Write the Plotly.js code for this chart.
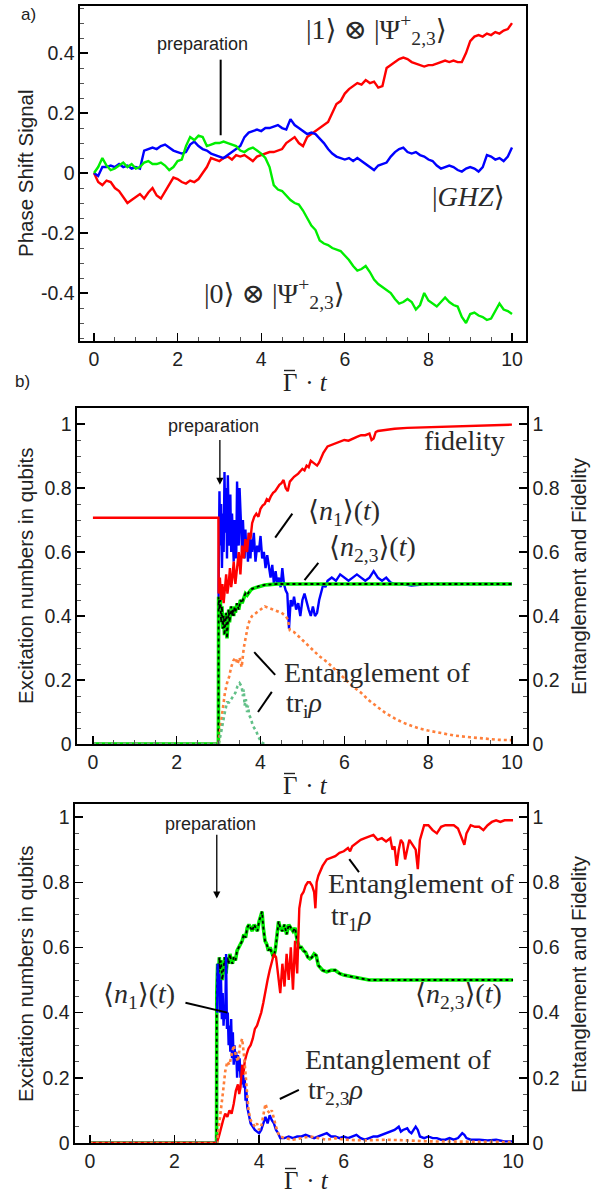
<!DOCTYPE html>
<html><head><meta charset="utf-8">
<script src="https://cdn.plot.ly/plotly-3.0.1.min.js"></script>
<style>html,body{margin:0;padding:0;background:#fff}#chart{width:606px;height:1197px}</style>
</head><body><div id="chart"></div>
<script>
// ---------- Panel a: phase shift signals ----------
const tGrid = [0,0.1,0.2,0.3,0.4,0.5,0.6,0.7,0.8,0.9,1,1.1,1.2,1.3,1.4,1.5,1.6,1.7,1.8,1.9,2,2.1,2.2,2.3,2.4,2.5,2.6,2.7,2.8,2.9,3,3.1,3.2,3.3,3.4,3.5,3.6,3.7,3.8,3.9,4,4.1,4.2,4.3,4.4,4.5,4.6,4.7,4.8,4.9,5,5.1,5.2,5.3,5.4,5.5,5.6,5.7,5.8,5.9,6,6.1,6.2,6.3,6.4,6.5,6.6,6.7,6.8,6.9,7,7.1,7.2,7.3,7.4,7.5,7.6,7.7,7.8,7.9,8,8.1,8.2,8.3,8.4,8.5,8.6,8.7,8.8,8.9,9,9.1,9.2,9.3,9.4,9.5,9.6,9.7,9.8,9.9,10];
const phaseRed = [
 0,-0.03,-0.04,-0.025,-0.03,-0.05,-0.06,-0.08,-0.1,-0.09,
 -0.08,-0.07,-0.085,-0.065,-0.05,-0.075,-0.085,-0.06,-0.04,-0.015,
 -0.02,-0.03,-0.035,-0.025,-0.03,-0.02,0.0,0.02,0.05,0.045,
 0.04,0.05,0.055,0.045,0.06,0.055,0.06,0.05,0.04,0.055,
 0.06,0.065,0.07,0.07,0.075,0.08,0.1,0.11,0.12,0.1,
 0.09,0.12,0.13,0.14,0.15,0.16,0.17,0.2,0.23,0.24,
 0.265,0.28,0.29,0.3,0.295,0.31,0.3,0.305,0.285,0.29,
 0.35,0.36,0.37,0.38,0.385,0.38,0.37,0.365,0.36,0.355,
 0.36,0.36,0.365,0.37,0.375,0.37,0.375,0.37,0.37,0.4,
 0.44,0.455,0.46,0.455,0.465,0.46,0.47,0.465,0.475,0.48,
 0.5];
const phaseBlue = [
 0,-0.01,0.02,0.02,0.025,0.02,0.03,0.02,0.025,0.015,
 0.02,0.015,0.075,0.08,0.085,0.08,0.09,0.095,0.085,0.075,
 0.07,0.065,0.07,0.095,0.105,0.09,0.08,0.075,0.065,0.06,
 0.055,0.05,0.06,0.07,0.08,0.09,0.12,0.135,0.14,0.145,
 0.14,0.15,0.15,0.155,0.16,0.15,0.145,0.18,0.16,0.15,
 0.14,0.13,0.135,0.13,0.115,0.1,0.08,0.065,0.055,0.05,
 0.045,0.05,0.04,0.05,0.04,0.03,0.02,0.01,0.025,0.03,
 0.035,0.055,0.07,0.08,0.085,0.07,0.065,0.07,0.06,0.055,
 0.045,0.04,0.025,0.015,0.02,0.025,0.02,0.01,0.005,0.015,
 0.02,0.015,0.005,0.02,0.06,0.055,0.045,0.05,0.04,0.055,
 0.085];
const phaseGreen = [
 0,0.02,0.05,0.025,0.01,0.015,0.025,0.035,0.02,0.03,
 0.015,0.02,0.035,0.04,0.03,0.03,0.035,0.025,0.01,0.02,
 0.04,0.045,0.09,0.12,0.11,0.125,0.12,0.09,0.095,0.1,
 0.1,0.105,0.1,0.095,0.09,0.075,0.07,0.08,0.085,0.075,
 0.065,0.05,0.02,-0.04,-0.055,-0.06,-0.075,-0.09,-0.1,-0.105,
 -0.125,-0.15,-0.175,-0.19,-0.225,-0.235,-0.24,-0.25,-0.255,-0.26,
 -0.275,-0.29,-0.31,-0.325,-0.32,-0.31,-0.33,-0.355,-0.37,-0.38,
 -0.39,-0.4,-0.42,-0.435,-0.43,-0.42,-0.43,-0.455,-0.44,-0.4,
 -0.425,-0.435,-0.445,-0.43,-0.415,-0.43,-0.44,-0.445,-0.48,-0.5,
 -0.47,-0.465,-0.475,-0.48,-0.49,-0.485,-0.46,-0.435,-0.455,-0.46,
 -0.47];
const phaseTickVals = [-0.4,-0.2,0,0.2,0.4];
const phaseTickText = ['-0.4','-0.2','0','0.2','0.4'];

// ---------- Panel b: [time, value] points ----------
const fidelityB = [[0,0.707],[2.995,0.707],[3.0,0.47],[3.03,0.52],[3.06,0.45],[3.09,0.5],[3.12,0.44],[3.15,0.48],[3.18,0.53],[3.21,0.47],[3.24,0.5],[3.27,0.55],[3.3,0.49],[3.33,0.52],[3.36,0.57],[3.4,0.5],[3.44,0.56],[3.48,0.6],[3.52,0.53],[3.56,0.62],[3.6,0.58],[3.64,0.64],[3.68,0.6],[3.72,0.66],[3.76,0.64],[3.8,0.69],[3.85,0.71],[3.9,0.72],[3.95,0.71],[4.0,0.735],[4.05,0.745],[4.1,0.75],[4.15,0.765],[4.2,0.76],[4.25,0.775],[4.3,0.785],[4.35,0.79],[4.4,0.8],[4.45,0.81],[4.5,0.815],[4.55,0.825],[4.6,0.8],[4.65,0.79],[4.7,0.82],[4.8,0.835],[4.9,0.845],[5.0,0.86],[5.05,0.855],[5.1,0.87],[5.15,0.865],[5.2,0.885],[5.25,0.88],[5.3,0.875],[5.35,0.87],[5.4,0.88],[5.5,0.91],[5.6,0.93],[5.7,0.935],[5.8,0.94],[5.9,0.945],[6.0,0.95],[6.1,0.948],[6.2,0.955],[6.3,0.96],[6.4,0.965],[6.5,0.965],[6.6,0.97],[6.65,0.95],[6.7,0.955],[6.75,0.975],[6.8,0.978],[7.0,0.982],[7.2,0.985],[7.5,0.988],[8.0,0.99],[8.5,0.993],[9.0,0.995],[9.5,0.997],[10,0.998]];
const n1B = [[0,0],[2.995,0],[3.0,0.5],[3.02,0.79],[3.04,0.62],[3.06,0.75],[3.08,0.55],[3.1,0.72],[3.12,0.6],[3.14,0.85],[3.16,0.66],[3.18,0.8],[3.2,0.58],[3.22,0.84],[3.24,0.7],[3.26,0.62],[3.28,0.78],[3.3,0.6],[3.32,0.72],[3.34,0.66],[3.36,0.57],[3.38,0.7],[3.4,0.64],[3.42,0.58],[3.44,0.82],[3.46,0.7],[3.48,0.62],[3.5,0.8],[3.52,0.72],[3.54,0.66],[3.56,0.6],[3.58,0.7],[3.6,0.63],[3.62,0.58],[3.64,0.67],[3.66,0.6],[3.68,0.64],[3.7,0.57],[3.72,0.66],[3.74,0.6],[3.76,0.58],[3.78,0.64],[3.8,0.6],[3.84,0.66],[3.88,0.57],[3.92,0.62],[3.96,0.6],[4.0,0.65],[4.04,0.58],[4.08,0.6],[4.12,0.55],[4.16,0.59],[4.2,0.56],[4.24,0.52],[4.28,0.56],[4.32,0.5],[4.36,0.54],[4.4,0.5],[4.44,0.52],[4.48,0.49],[4.52,0.55],[4.56,0.5],[4.6,0.48],[4.64,0.47],[4.68,0.36],[4.72,0.45],[4.76,0.43],[4.8,0.46],[4.85,0.42],[4.9,0.44],[4.95,0.4],[5.0,0.45],[5.05,0.47],[5.1,0.44],[5.15,0.42],[5.2,0.4],[5.25,0.43],[5.3,0.4],[5.35,0.41],[5.4,0.45],[5.45,0.48],[5.5,0.5],[5.55,0.49],[5.6,0.51],[5.7,0.52],[5.8,0.51],[5.9,0.53],[6.0,0.52],[6.1,0.51],[6.2,0.52],[6.3,0.53],[6.4,0.52],[6.5,0.51],[6.6,0.52],[6.7,0.54],[6.8,0.52],[6.9,0.51],[7.0,0.52],[7.1,0.505],[7.2,0.5],[7.4,0.5],[7.6,0.495],[8.0,0.5],[8.5,0.5],[9.0,0.5],[9.5,0.5],[10,0.5]];
const n23B = [[0,0],[2.995,0],[3.0,0.46],[3.02,0.42],[3.04,0.45],[3.06,0.38],[3.08,0.43],[3.1,0.36],[3.12,0.4],[3.14,0.34],[3.16,0.38],[3.18,0.41],[3.2,0.33],[3.22,0.37],[3.24,0.42],[3.26,0.38],[3.28,0.4],[3.3,0.43],[3.32,0.4],[3.34,0.42],[3.36,0.4],[3.38,0.43],[3.4,0.41],[3.44,0.44],[3.48,0.42],[3.52,0.45],[3.56,0.44],[3.6,0.46],[3.64,0.47],[3.68,0.465],[3.72,0.475],[3.76,0.48],[3.8,0.485],[3.9,0.49],[4.0,0.495],[4.1,0.497],[4.2,0.498],[4.4,0.5],[10,0.5]];
const entOrangeB = [[0,0],[2.99,0],[3.0,0],[3.05,0.06],[3.1,0.12],[3.15,0.16],[3.2,0.19],[3.25,0.21],[3.3,0.24],[3.35,0.26],[3.4,0.27],[3.45,0.25],[3.5,0.27],[3.55,0.24],[3.6,0.3],[3.65,0.34],[3.7,0.37],[3.75,0.39],[3.8,0.4],[3.9,0.41],[4.0,0.42],[4.1,0.43],[4.2,0.425],[4.3,0.42],[4.4,0.415],[4.5,0.41],[4.6,0.4],[4.65,0.39],[4.7,0.355],[4.8,0.35],[5.0,0.325],[5.2,0.3],[5.4,0.275],[5.6,0.255],[5.8,0.23],[6.0,0.205],[6.2,0.18],[6.4,0.16],[6.6,0.135],[6.8,0.115],[7.0,0.095],[7.2,0.08],[7.4,0.067],[7.6,0.057],[7.8,0.048],[8.0,0.042],[8.3,0.035],[8.6,0.027],[9.0,0.021],[9.4,0.016],[9.7,0.013],[10,0.012]];
const entGreenB = [[0,0],[2.99,0],[3.0,0],[3.05,0.03],[3.1,0.07],[3.15,0.1],[3.2,0.13],[3.25,0.13],[3.3,0.14],[3.35,0.15],[3.4,0.16],[3.45,0.18],[3.5,0.19],[3.55,0.18],[3.58,0.15],[3.6,0.17],[3.62,0.12],[3.65,0.14],[3.68,0.1],[3.7,0.12],[3.73,0.09],[3.77,0.08],[3.81,0.06],[3.85,0.05],[3.9,0.04],[3.94,0.025],[3.98,0.015],[4.02,0.005],[4.1,0]];

// ---------- Panel c: [time, value] points ----------
const entRedC = [[0,0],[2.99,0],[3.0,0],[3.05,0.02],[3.1,0.05],[3.15,0.07],[3.2,0.09],[3.25,0.08],[3.3,0.1],[3.35,0.09],[3.4,0.12],[3.45,0.16],[3.5,0.18],[3.53,0.15],[3.56,0.17],[3.6,0.24],[3.63,0.21],[3.66,0.25],[3.7,0.27],[3.75,0.29],[3.8,0.3],[3.85,0.32],[3.9,0.35],[3.95,0.36],[4.0,0.38],[4.05,0.4],[4.1,0.43],[4.15,0.47],[4.2,0.5],[4.25,0.53],[4.3,0.56],[4.35,0.58],[4.4,0.57],[4.45,0.52],[4.5,0.46],[4.55,0.55],[4.6,0.48],[4.65,0.58],[4.7,0.5],[4.75,0.6],[4.8,0.47],[4.85,0.62],[4.9,0.52],[4.95,0.72],[5.0,0.76],[5.05,0.77],[5.1,0.79],[5.15,0.8],[5.2,0.8],[5.25,0.79],[5.3,0.77],[5.33,0.72],[5.36,0.8],[5.4,0.82],[5.5,0.85],[5.6,0.87],[5.7,0.875],[5.8,0.88],[5.9,0.89],[6.0,0.895],[6.1,0.905],[6.15,0.895],[6.2,0.91],[6.3,0.92],[6.4,0.93],[6.5,0.935],[6.6,0.94],[6.7,0.945],[6.8,0.93],[6.9,0.935],[7.0,0.925],[7.1,0.935],[7.15,0.9],[7.2,0.91],[7.25,0.85],[7.3,0.9],[7.35,0.93],[7.4,0.92],[7.45,0.87],[7.5,0.9],[7.55,0.93],[7.6,0.92],[7.7,0.9],[7.75,0.84],[7.8,0.93],[7.9,0.975],[8.0,0.975],[8.1,0.96],[8.2,0.95],[8.3,0.97],[8.4,0.975],[8.5,0.975],[8.6,0.975],[8.7,0.965],[8.8,0.93],[8.85,0.915],[8.9,0.95],[9.0,0.975],[9.1,0.97],[9.2,0.97],[9.3,0.96],[9.4,0.975],[9.5,0.985],[9.6,0.99],[9.7,0.985],[9.8,0.99],[9.9,0.99],[10,0.99]];
const n1C = [[0,0],[2.99,0],[2.995,null],[3.01,0.4],[3.02,0.55],[3.04,0.45],[3.06,0.52],[3.08,0.4],[3.1,0.5],[3.12,0.38],[3.14,0.46],[3.16,0.36],[3.18,0.42],[3.2,0.38],[3.22,0.58],[3.24,0.35],[3.26,0.4],[3.28,0.3],[3.3,0.36],[3.32,0.28],[3.34,0.38],[3.36,0.26],[3.38,0.34],[3.4,0.24],[3.42,0.3],[3.44,0.25],[3.46,0.28],[3.48,0.2],[3.5,0.27],[3.52,0.22],[3.54,0.26],[3.56,0.2],[3.58,0.24],[3.6,0.18],[3.62,0.21],[3.64,0.17],[3.66,0.2],[3.68,0.13],[3.7,0.16],[3.72,0.11],[3.75,0.09],[3.8,0.06],[3.85,0.05],[3.9,0.04],[3.95,0.035],[4.0,0.03],[4.05,0.04],[4.1,0.06],[4.15,0.08],[4.2,0.06],[4.25,0.085],[4.3,0.07],[4.35,0.06],[4.4,0.04],[4.45,0.03],[4.5,0.015],[4.6,0.015],[4.7,0.02],[4.8,0.015],[4.9,0.02],[5.0,0.02],[5.1,0.025],[5.2,0.02],[5.3,0.015],[5.4,0.02],[5.5,0.025],[5.6,0.03],[5.7,0.02],[5.8,0.02],[5.9,0.015],[6.0,0.02],[6.1,0.015],[6.2,0.02],[6.3,0.025],[6.4,0.015],[6.5,0.01],[6.6,0.015],[6.7,0.02],[6.8,0.02],[6.9,0.025],[7.0,0.03],[7.1,0.035],[7.2,0.04],[7.3,0.05],[7.35,0.035],[7.4,0.04],[7.5,0.045],[7.55,0.035],[7.6,0.03],[7.7,0.05],[7.75,0.04],[7.8,0.02],[7.9,0.015],[8.0,0.02],[8.1,0.015],[8.2,0.015],[8.3,0.01],[8.4,0.01],[8.5,0.015],[8.6,0.01],[8.7,0.015],[8.8,0.03],[8.85,0.025],[8.9,0.015],[9.0,0.01],[9.2,0.01],[9.4,0.008],[9.6,0.01],[9.8,0.005],[10,0.005]];
const n23C = [[0,0],[2.995,0],[3.0,0.46],[3.02,0.55],[3.04,0.5],[3.06,0.57],[3.08,0.53],[3.1,0.56],[3.13,0.5],[3.16,0.54],[3.19,0.57],[3.22,0.52],[3.25,0.57],[3.28,0.55],[3.31,0.58],[3.34,0.56],[3.37,0.55],[3.4,0.57],[3.44,0.56],[3.48,0.59],[3.52,0.6],[3.56,0.61],[3.6,0.62],[3.64,0.64],[3.68,0.63],[3.72,0.66],[3.76,0.67],[3.8,0.66],[3.84,0.65],[3.88,0.67],[3.92,0.66],[3.96,0.65],[4.0,0.68],[4.04,0.7],[4.07,0.71],[4.1,0.66],[4.14,0.62],[4.18,0.61],[4.22,0.59],[4.26,0.6],[4.3,0.58],[4.34,0.57],[4.38,0.59],[4.42,0.63],[4.46,0.68],[4.5,0.66],[4.55,0.65],[4.6,0.67],[4.65,0.64],[4.7,0.67],[4.75,0.66],[4.8,0.65],[4.85,0.66],[4.9,0.62],[4.95,0.6],[5.0,0.6],[5.05,0.59],[5.1,0.585],[5.15,0.57],[5.2,0.565],[5.25,0.57],[5.3,0.58],[5.35,0.575],[5.4,0.545],[5.5,0.53],[5.6,0.525],[5.7,0.53],[5.8,0.53],[5.9,0.52],[6.0,0.515],[6.2,0.51],[6.4,0.505],[6.6,0.5],[7,0.5],[10,0.5]];
const entOrangeC = [[0,0],[2.99,0],[3.0,0],[3.05,0.05],[3.1,0.1],[3.15,0.16],[3.2,0.22],[3.25,0.25],[3.3,0.24],[3.35,0.27],[3.4,0.3],[3.45,0.27],[3.5,0.25],[3.55,0.3],[3.6,0.32],[3.65,0.26],[3.7,0.18],[3.75,0.1],[3.8,0.07],[3.85,0.06],[3.9,0.05],[3.95,0.06],[4.0,0.04],[4.05,0.05],[4.1,0.08],[4.15,0.12],[4.2,0.1],[4.25,0.09],[4.3,0.1],[4.35,0.07],[4.4,0.05],[4.45,0.03],[4.5,0.02],[4.6,0.015],[4.8,0.01],[5.0,0.015],[5.2,0.02],[5.4,0.015],[5.6,0.01],[5.8,0.015],[6.0,0.01],[6.5,0.008],[7.0,0.01],[7.5,0.008],[8.0,0.005],[9.0,0.004],[10,0.003]];

// ---------- helpers ----------
const px = a => a.map(p => p[0]);
const py = a => a.map(p => p[1]);
const W = 606, H = 1197;
const fx = v => v / W, fy = v => 1 - v / H;

const RED = '#ff0000', BLUE = '#0000ff', LIME = '#00ee00', ORANGE = '#ff7f3a', SEA = '#62c088';
const line = (x, y, xa, ya, color, width, dash) => ({type:'scatter', mode:'lines', x, y, xaxis:xa, yaxis:ya, line:{color, width, dash: dash || 'solid'}, hoverinfo:'skip'});

const data = [
  line(tGrid, phaseRed, 'x', 'y', RED, 2.4),
  line(tGrid, phaseBlue, 'x', 'y', BLUE, 2.4),
  line(tGrid, phaseGreen, 'x', 'y', LIME, 2.4),

  line(px(fidelityB), py(fidelityB), 'x2', 'y3', RED, 2.4),
  line(px(n1B), py(n1B), 'x2', 'y2', BLUE, 2.4),
  line(px(n23B), py(n23B), 'x2', 'y2', LIME, 3.6),
  line(px(n23B), py(n23B), 'x2', 'y2', '#000000', 1.8, 'dot'),
  line(px(entOrangeB), py(entOrangeB), 'x2', 'y3', ORANGE, 2.6, 'dot'),
  line(px(entGreenB), py(entGreenB), 'x2', 'y3', SEA, 2.6, 'dot'),

  line(px(n23C), py(n23C), 'x3', 'y4', LIME, 3.6),
  line(px(n23C), py(n23C), 'x3', 'y4', '#000000', 1.8, 'dot'),
  line(px(n1C), py(n1C), 'x3', 'y4', BLUE, 2.4),
  line(px(entRedC), py(entRedC), 'x3', 'y5', RED, 2.4),
  line(px(entOrangeC), py(entOrangeC), 'x3', 'y5', ORANGE, 2.6, 'dot')
];

const SANS = 'Liberation Sans, Arial, Helvetica, sans-serif';
const SERIF = 'Liberation Serif, Times New Roman, DejaVu Serif, serif';
const tickFont = {family:SANS, size:19.5, color:'#222'};
const base = {showline:true, linecolor:'#000', linewidth:1.6, ticks:'inside', ticklen:8, tickwidth:1.4, tickcolor:'#000',
  showgrid:false, zeroline:false, tickfont:tickFont, fixedrange:true};
const minor = (d) => ({ticks:'inside', ticklen:4, tickwidth:1, tickcolor:'#555', tickmode:'linear', tick0:0, dtick:d, showgrid:false});
const xAx = (dom, rng, anchor) => Object.assign({}, base, {domain:dom, range:rng, anchor, mirror:true, tickmode:'linear', tick0:0, dtick:2, minor:minor(0.5)});
const yAx = (dom, rng, anchor, extra) => Object.assign({}, base, {domain:dom, range:rng, anchor, tickmode:'linear', tick0:0, dtick:0.2, minor:minor(0.05)}, extra || {});

const layout = {
  width: W, height: H, margin:{l:0, r:0, t:0, b:0}, paper_bgcolor:'#fff', plot_bgcolor:'rgba(0,0,0,0)',
  showlegend:false, hovermode:false,
  xaxis:  xAx([fx(80), fx(526)], [-0.335, 10.335], 'y'),
  yaxis:  yAx([fy(341), fy(6)], [-0.56, 0.557], 'x', {mirror:true, tickmode:'array', tickvals:phaseTickVals, ticktext:phaseTickText}),
  xaxis2: xAx([fx(77), fx(527)], [-0.38, 10.36], 'y2'),
  yaxis2: yAx([fy(744), fy(408)], [0, 1.05], 'x2'),
  yaxis3: yAx([fy(744), fy(408)], [0, 1.05], 'x2', {overlaying:'y2', side:'right'}),
  xaxis3: xAx([fx(75), fx(527)], [-0.35, 10.33], 'y4'),
  yaxis4: yAx([fy(1143), fy(804)], [0, 1.04], 'x3'),
  yaxis5: yAx([fy(1143), fy(804)], [0, 1.04], 'x3', {overlaying:'y4', side:'right'}),
  shapes: [], annotations: []
};

const A = layout.annotations, S = layout.shapes;
const txt = (text, x, y, xref, yref, font, extra) => A.push(Object.assign({text, x, y, xref, yref, showarrow:false, font, xanchor:'center', yanchor:'middle'}, extra || {}));
const seg = (x0, y0, x1, y1, xref, yref, w) => S.push({type:'line', x0, y0, x1, y1, xref, yref, line:{color:'#000', width:w || 2}});
const arrow = (x, y, ax, ay, xref, yref) => A.push({x, y, ax, ay, xref, yref, axref:xref, ayref:yref, text:'', showarrow:true, arrowhead:2, arrowsize:1.1, arrowwidth:1.3, arrowcolor:'#000', standoff:0, startstandoff:0});

const serif = {family:SERIF, size:28, color:'#2a2a2a'};
const prepFont = {family:SANS, size:18, color:'#222'};
const titleFont = {family:SANS, size:20.5, color:'#222'};
const gFont = {family:SERIF, size:25, color:'#222'};

// x-axis title "Γ̄ · t": Γ, a bar above it, then "· t"
const gammaTitle = (cx, cy) => {
  txt('\u0393', fx(cx), fy(cy), 'paper', 'paper', gFont, {xanchor:'right', borderpad:0});
  txt('\u00a0\u00b7\u00a0<i>t</i>', fx(cx), fy(cy), 'paper', 'paper', gFont, {xanchor:'left', borderpad:0});
  S.push({type:'line', xref:'paper', yref:'paper', x0:fx(cx - 14), x1:fx(cx - 3), y0:fy(cy - 11.5), y1:fy(cy - 11.5), line:{color:'#222', width:1.4}});
};

// panel labels
txt('a)', fx(28), fy(14), 'paper', 'paper', {family:SANS, size:17, color:'#222'});
txt('b)', fx(22), fy(381), 'paper', 'paper', {family:SANS, size:17, color:'#222'});

// axis titles
gammaTitle(298, 382);
gammaTitle(298, 785);
gammaTitle(299, 1180);
txt('Phase Shift Signal', fx(25), fy(173), 'paper', 'paper', titleFont, {textangle:-90});
txt('Excitation numbers in qubits', fx(25), fy(576), 'paper', 'paper', titleFont, {textangle:-90});
txt('Entanglement and Fidelity', fx(578), fy(576), 'paper', 'paper', titleFont, {textangle:-90});
txt('Excitation numbers in qubits', fx(25), fy(974), 'paper', 'paper', titleFont, {textangle:-90});
txt('Entanglement and Fidelity', fx(578), fy(974), 'paper', 'paper', titleFont, {textangle:-90});

// panel a annotations
txt('preparation', 2.6, 0.43, 'x', 'y', prepFont);
seg(3.03, 0.126, 3.03, 0.378, 'x', 'y', 2);
txt('|1\u27e9 \u2297 |\u03a8<sup>+</sup><sub>2,3</sub>\u27e9', 6.76, 0.477, 'x', 'y', serif);
txt('|<i>GHZ</i>\u27e9', 8.95, -0.077, 'x', 'y', serif);
txt('|0\u27e9 \u2297 |\u03a8<sup>+</sup><sub>2,3</sub>\u27e9', 4.32, -0.4, 'x', 'y', serif);

// panel b annotations
txt('preparation', 2.88, 0.994, 'x2', 'y2', prepFont);
arrow(3.03, 0.81, 3.03, 0.955, 'x2', 'y2');
txt('fidelity', 8.86, 0.95, 'x2', 'y2', serif);
txt('\u27e8<i>n</i><sub>1</sub>\u27e9(<i>t</i>)', 6.0, 0.725, 'x2', 'y2', serif);
seg(4.35, 0.645, 4.76, 0.72, 'x2', 'y2');
txt('\u27e8<i>n</i><sub>2,3</sub>\u27e9(<i>t</i>)', 6.68, 0.61, 'x2', 'y2', serif);
seg(5.05, 0.512, 5.38, 0.566, 'x2', 'y2');
txt('Entanglement of', 6.78, 0.222, 'x2', 'y2', serif);
txt('tr<sub>i</sub><i>\u03c1</i>', 4.55, 0.125, 'x2', 'y2', serif, {xanchor:'left'});
seg(3.85, 0.287, 4.35, 0.216, 'x2', 'y2');
seg(3.94, 0.10, 4.27, 0.163, 'x2', 'y2');

// panel c annotations
txt('preparation', 2.86, 0.98, 'x3', 'y4', prepFont);
arrow(3.0, 0.75, 3.0, 0.95, 'x3', 'y4');
txt('Entanglement of', 7.84, 0.797, 'x3', 'y4', serif);
txt('tr<sub>1</sub><i>\u03c1</i>', 5.64, 0.693, 'x3', 'y4', serif, {xanchor:'left'});
seg(6.13, 0.871, 6.36, 0.831, 'x3', 'y4');
txt('\u27e8<i>n</i><sub>2,3</sub>\u27e9(<i>t</i>)', 8.72, 0.454, 'x3', 'y4', serif);
txt('\u27e8<i>n</i><sub>1</sub>\u27e9(<i>t</i>)', 1.17, 0.454, 'x3', 'y4', serif);
seg(2.26, 0.43, 3.25, 0.40, 'x3', 'y4');
txt('Entanglement of', 7.3, 0.255, 'x3', 'y4', serif);
txt('tr<sub>2,3</sub><i>\u03c1</i>', 5.1, 0.157, 'x3', 'y4', serif, {xanchor:'left'});
seg(4.49, 0.135, 4.94, 0.163, 'x3', 'y4');

Plotly.newPlot('chart', data, layout, {displayModeBar:false, staticPlot:true});
</script>
</body></html>
